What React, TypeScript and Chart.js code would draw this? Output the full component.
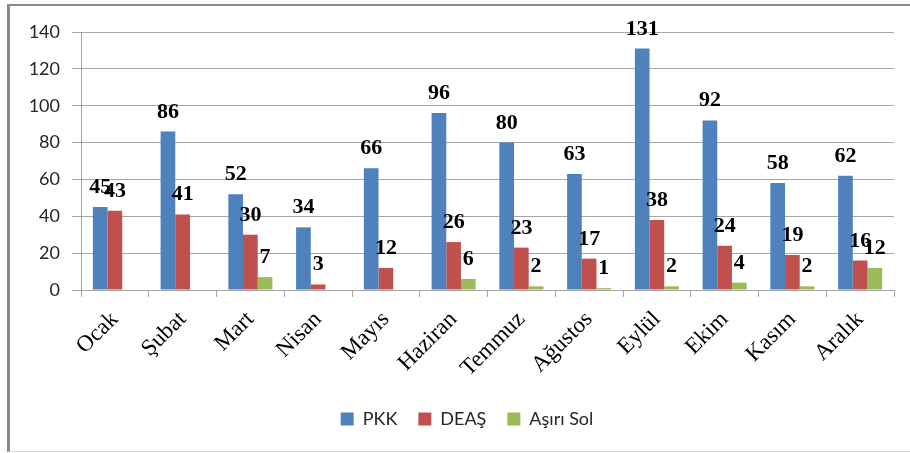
import React, { useEffect, useRef } from "react";
import { Chart, registerables } from "chart.js";

Chart.register(...registerables);

const months = ["Ocak", "Şubat", "Mart", "Nisan", "Mayıs", "Haziran", "Temmuz", "Ağustos", "Eylül", "Ekim", "Kasım", "Aralık"];
const pkk = [45, 86, 52, 34, 66, 96, 80, 63, 131, 92, 58, 62];
const deas = [43, 41, 30, 3, 12, 26, 23, 17, 38, 24, 19, 16];
const asiriSol = [0, 0, 7, 0, 0, 6, 2, 1, 2, 4, 2, 12];
const seriesNames = ["PKK", "DEAŞ", "Aşırı Sol"];
const seriesColors = ["#4F81BD", "#C0504D", "#9BBB59"];
const yMin = 0;
const yMax = 140;
const yStep = 20;

const gridColor = "#a6a6a6";

const barLabels = {
  id: "barLabels",
  afterDatasetsDraw(chart: any) {
    const ctx = chart.ctx;
    ctx.save();
    ctx.font = 'bold 22px "Liberation Serif", "Times New Roman", serif';
    ctx.fillStyle = "#000";
    ctx.textAlign = "center";
    ctx.textBaseline = "alphabetic";
    chart.data.datasets.forEach((ds: any, i: number) => {
      const meta = chart.getDatasetMeta(i);
      meta.data.forEach((bar: any, j: number) => {
        const v = ds.data[j];
        if (!v) return;
        ctx.fillText(String(v), bar.x, bar.y - 14);
      });
    });
    ctx.restore();
  },
};

const legendShift = {
  id: "legendShift",
  afterLayout(chart: any) {
    if (chart.legend) {
      chart.legend.left += 15;
      chart.legend.right += 15;
    }
  },
};

export default function App() {
  const ref = useRef<HTMLCanvasElement>(null);
  useEffect(() => {
    if (!ref.current) return;
    const chart = new Chart(ref.current, {
      type: "bar",
      data: {
        labels: months,
        datasets: [pkk, deas, asiriSol].map((d, i) => ({
          label: seriesNames[i],
          data: d,
          backgroundColor: seriesColors[i],
          borderWidth: 0,
          categoryPercentage: 0.65,
          barPercentage: 1,
        })),
      },
      options: {
        responsive: false,
        animation: false,
        layout: { padding: { left: 0, right: 16, top: 26, bottom: 13 } },
        plugins: {
          tooltip: { enabled: false },
          legend: {
            position: "bottom",
            labels: {
              font: { family: "Lato", size: 18 },
              color: "#262626",
              boxWidth: 13,
              boxHeight: 13,
              padding: 21,
            },
          },
        },
        scales: {
          x: {
            grid: { drawOnChartArea: false, drawTicks: true, tickLength: 7, color: gridColor, offset: true },
            border: { color: gridColor },
            ticks: {
              font: { family: '"Liberation Serif", "Times New Roman", serif', size: 23 },
              color: "#000",
              minRotation: 45,
              maxRotation: 45,
              padding: 9,
              autoSkip: false,
            },
            afterFit: (s: any) => {
              s.height = 99;
            },
          },
          y: {
            min: yMin,
            max: yMax,
            ticks: {
              stepSize: yStep,
              font: { family: "Lato", size: 18 },
              color: "#262626",
              padding: 12,
            },
            grid: { color: gridColor, tickLength: 9 },
            border: { color: gridColor },
            afterFit: (s: any) => {
              s.width = 71;
            },
          },
        },
      },
      plugins: [barLabels, legendShift],
    });
    return () => chart.destroy();
  }, []);

  return (
    <div
      style={{
        position: "absolute",
        left: 7,
        top: 4,
        width: 903,
        height: 448,
        boxSizing: "border-box",
        borderTop: "2px solid #898989",
        borderLeft: "3px solid #898989",
        borderBottom: "1px solid #d9d9d9",
        background: "#fff",
      }}
    >
      <canvas ref={ref} width={900} height={445} style={{ display: "block" }} />
    </div>
  );
}
